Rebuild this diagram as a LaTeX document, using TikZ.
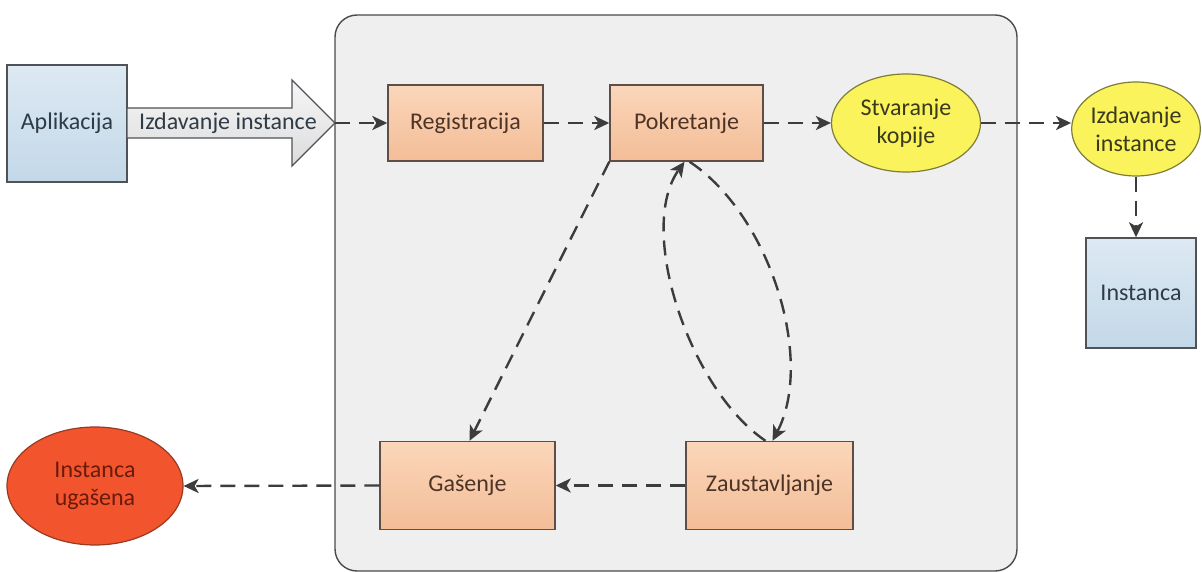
\documentclass[tikz,border=0pt]{standalone}
\usepackage{fontspec}
\setmainfont{Carlito}
\usetikzlibrary{shapes.geometric,arrows.meta}

\definecolor{panelfill}{HTML}{EFEFEF}
\definecolor{paneledge}{HTML}{4A4A4A}
\definecolor{bluetop}{HTML}{DDE9F3}
\definecolor{bluebot}{HTML}{C3D8E8}
\definecolor{blueedge}{HTML}{4F5358}
\definecolor{bluetext}{HTML}{2F3B46}
\definecolor{orangetop}{HTML}{FBD6BA}
\definecolor{orangebot}{HTML}{F3BD97}
\definecolor{orangeedge}{HTML}{5E4E46}
\definecolor{browntext}{HTML}{4E3426}
\definecolor{yellowfill}{HTML}{FAF35C}
\definecolor{yellowedge}{HTML}{7E7C3A}
\definecolor{olivetext}{HTML}{3A3A1C}
\definecolor{redfill}{HTML}{F2552D}
\definecolor{rededge}{HTML}{983A22}
\definecolor{redtext}{HTML}{6A1A0C}
\definecolor{flowgray}{HTML}{3C3C3C}
\definecolor{arrowtop}{HTML}{F6F6F6}
\definecolor{arrowbot}{HTML}{DCDCDC}

\begin{document}
\begin{tikzpicture}[x=1pt,y=-1pt,
  every node/.style={font=\fontsize{24}{28}\selectfont},
  container/.style={draw=paneledge, line width=1.4pt, fill=panelfill,
    rounded corners=22pt, inner sep=0pt},
  bluebox/.style={draw=blueedge, line width=1.4pt, top color=bluetop,
    bottom color=bluebot, text=bluetext, inner sep=0pt},
  procbox/.style={draw=orangeedge, line width=1.4pt, top color=orangetop,
    bottom color=orangebot, text=browntext, inner sep=0pt},
  yoval/.style={ellipse, draw=yellowedge, line width=1.2pt, fill=yellowfill,
    text=olivetext, align=center, inner sep=0pt},
  roval/.style={ellipse, draw=rededge, line width=1.2pt, fill=redfill,
    text=redtext, align=center, inner sep=0pt},
  flow/.style={draw=flowgray, line width=2.4pt, dash pattern=on 15pt off 9pt,
    -{Stealth[length=15pt,width=14pt,inset=4pt]}},
]
\useasboundingbox (0,0) rectangle (1202,572);

% grey service panel
\node[container, minimum width=682pt, minimum height=556pt] (panel) at (676,293) {};

% application and the issuing arrow
\node[bluebox, minimum width=120pt, minimum height=117pt] (app) at (67,123.5) {Aplikacija};
\draw[draw=blueedge, line width=1.3pt, top color=arrowtop, bottom color=arrowbot]
  (127,108) -- (292,108) -- (292,80) -- (335,123) -- (292,166) -- (292,138) -- (127,138) -- cycle;
\node[text=bluetext] (issue) at (228,123) {Izdavanje instance};
\coordinate (tip) at (335,123);

% lifecycle states
\node[procbox, minimum width=155pt, minimum height=76pt] (reg) at (465.5,123) {Registracija};
\node[procbox, minimum width=153pt, minimum height=76pt] (pok) at (686.5,123) {Pokretanje};
\node[procbox, minimum width=175pt, minimum height=88pt] (gas) at (467.5,485.5) {Gašenje};
\node[procbox, minimum width=167pt, minimum height=88pt] (zau) at (769.5,485.5) {Zaustavljanje};

% copies and instances
\node[yoval, minimum width=149pt, minimum height=98pt] (stv) at (906,123) {Stvaranje\\kopije};
\node[yoval, minimum width=126pt, minimum height=94pt] (izd) at (1136,129) {Izdavanje\\instance};
\node[bluebox, minimum width=110pt, minimum height=110pt] (inst) at (1141,293) {Instanca};
\node[roval, minimum width=176pt, minimum height=118pt] (off) at (95,486) {Instanca\\ugašena};

% transitions
\draw[flow] (tip) -- (reg.west);
\draw[flow] (reg.east) -- (pok.west);
\draw[flow] (pok.east) -- (stv.west);
\draw[flow] (stv.east) -- (stv.east -| izd.west);
\draw[flow] (izd.south) -- (izd.south |- inst.north);
\draw[flow] (pok.south west) -- ([xshift=2pt]gas.north);
\draw[flow] ([xshift=3pt]pok.south) .. controls (770,215) and (815,360) .. ([xshift=3pt]zau.north);
\draw[flow] ([xshift=-4pt]zau.north) .. controls (690,390) and (636,230) .. ([xshift=-2pt]pok.south);
\draw[flow] (zau.west) -- (gas.east);
\draw[flow] (gas.west) -- (off.east);
\end{tikzpicture}
\end{document}
